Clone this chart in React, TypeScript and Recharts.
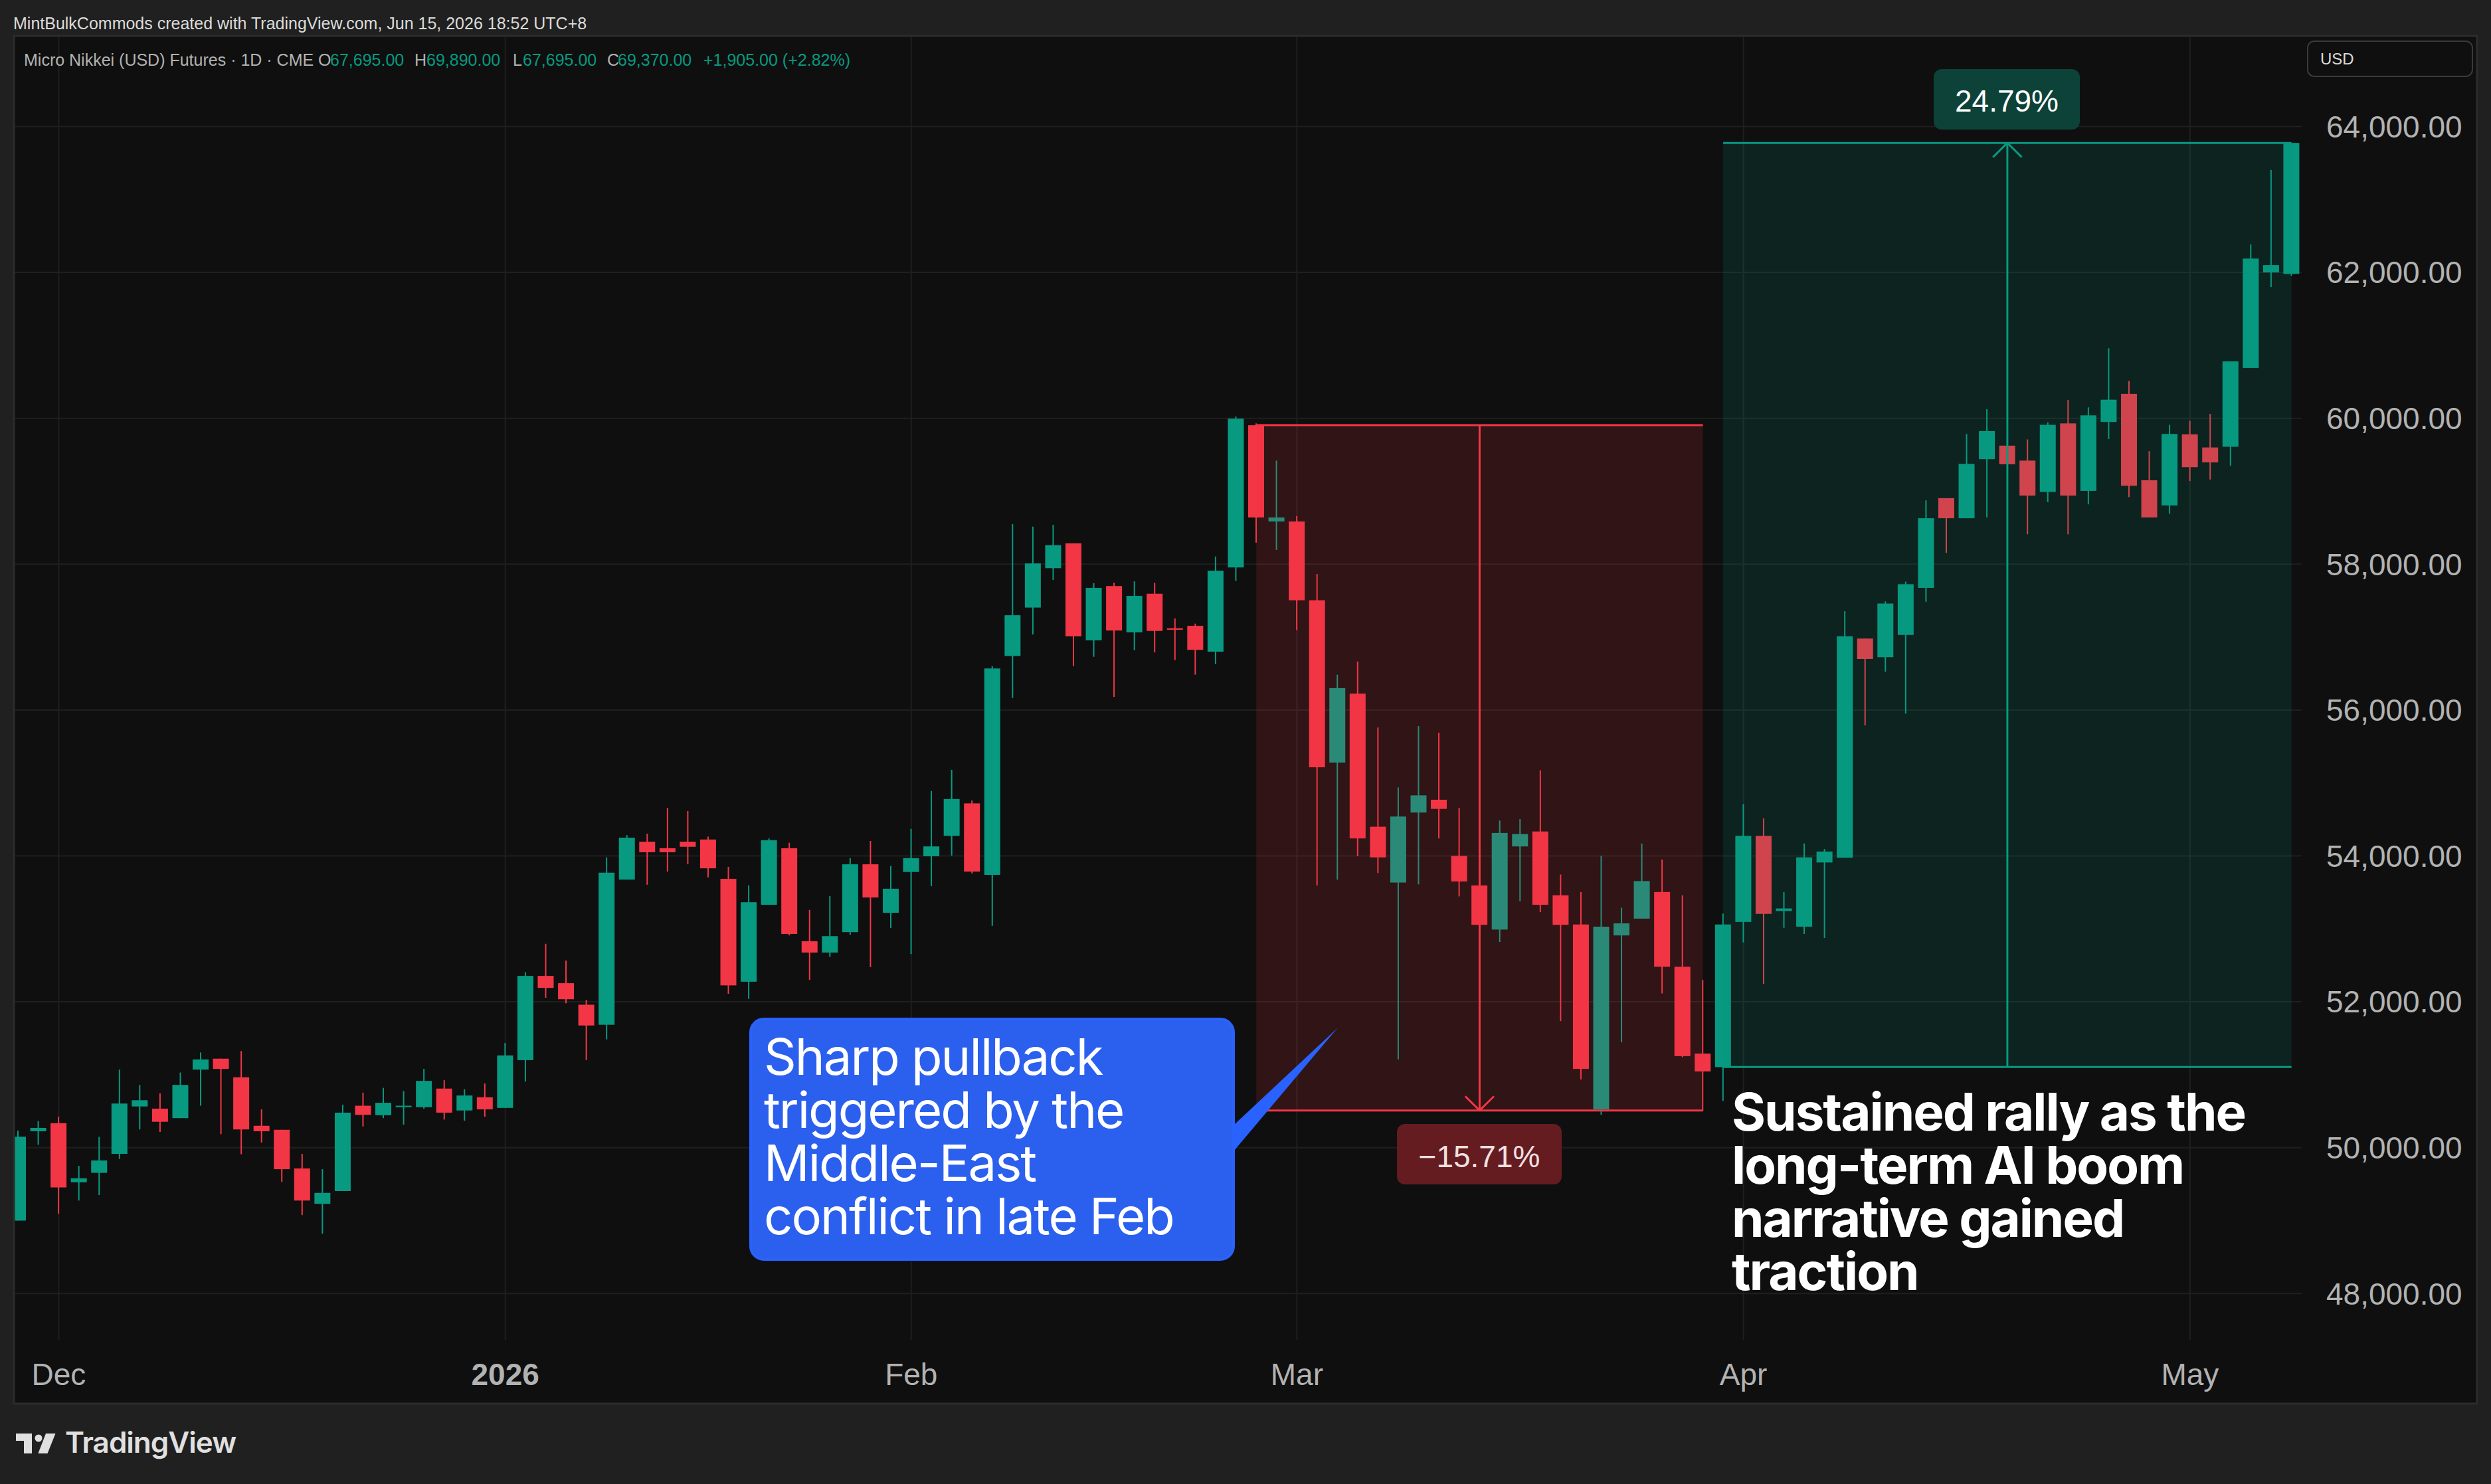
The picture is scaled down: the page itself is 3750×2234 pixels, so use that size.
import { Bar, CartesianGrid, ComposedChart, ReferenceArea, ReferenceLine, XAxis, YAxis } from 'recharts';

const opens = [
  49000, 50225, 50335, 49525, 49655, 49915, 50565, 50535, 50405, 51070, 51220, 50965, 50300, 50245, 49715, 49230,
  49405, 50575, 50445, 50555, 50555, 50810, 50510, 50690, 50545, 51200, 52355, 52255, 51960, 51685, 53675, 54195,
  54105, 54195, 54225, 53685, 52275, 53330, 54105, 52830, 52675, 52955, 53885, 53220, 53780, 53995, 54275, 54720,
  53740, 56740, 57405, 57945, 58285, 56955, 57700, 57065, 57595, 57120, 57155, 56800, 57955, 59905, 58585, 58585,
  57505, 55280, 56225, 54400, 53635, 54595, 54770, 54000, 53595, 52990, 54130, 54335, 53460, 53060, 50525, 52910,
  53140, 53505, 52480, 51290, 51105, 53095, 54275, 53245, 53030, 53910, 53975, 56980, 56725, 57030, 57675, 58905,
  58630, 59440, 59625, 59420, 58990, 59930, 59005, 59950, 60335, 59150, 58805, 59780, 59600, 59610, 60690, 62000,
  61980,
];
const highs = [
  50235, 50365, 50425, 49750, 50150, 51070, 50860, 50745, 51030, 51305, 51220, 51325, 50525, 50245, 49915, 49705,
  50590, 50755, 50820, 50775, 51080, 50925, 50800, 50880, 51435, 52405, 52795, 52565, 52025, 53980, 54285, 54305,
  54660, 54615, 54265, 53850, 53595, 54240, 54180, 53260, 53450, 53970, 54205, 53860, 54370, 54890, 55180, 54760,
  56600, 58550, 58515, 58540, 58285, 57740, 57745, 57765, 57745, 57255, 57185, 58105, 60025, 59930, 59420, 58660,
  57865, 56485, 56665, 55760, 54940, 55780, 55690, 54660, 53600, 54485, 54505, 55175, 53745, 53505, 54000, 53290,
  54170, 53950, 53460, 52300, 53210, 54710, 54515, 53505, 54170, 54095, 57355, 56980, 57490, 57760, 58875, 58905,
  59785, 60125, 59625, 59710, 59945, 60250, 60150, 60960, 60510, 59550, 59910, 59965, 60060, 60780, 62385, 63405,
  63775,
];
const lows = [
  49000, 50040, 49095, 49275, 49350, 49845, 50250, 50215, 50405, 50575, 50185, 49910, 50070, 49530, 49075, 48820,
  49405, 50290, 50405, 50315, 50535, 50385, 50370, 50425, 50545, 50905, 52055, 51980, 51200, 51485, 53675, 53605,
  53785, 53885, 53705, 52110, 52040, 53330, 52910, 52300, 52615, 52920, 52475, 53010, 52655, 53585, 54005, 53760,
  53040, 56165, 57035, 57785, 56600, 56730, 56180, 56820, 56790, 56685, 56485, 56630, 57770, 58295, 58195, 57095,
  53595, 53675, 53995, 53765, 51210, 53610, 54240, 53445, 52900, 52820, 53380, 53230, 51735, 50935, 50450, 51445,
  53140, 52115, 51240, 50505, 50640, 52815, 52245, 53015, 52930, 52875, 53975, 55790, 56525, 55950, 57485, 58155,
  58630, 58640, 59370, 58410, 58850, 58410, 58820, 59715, 58920, 58640, 58690, 59140, 59160, 59350, 60690, 61800,
  61955,
];
const closes = [
  50150, 50270, 49455, 49580, 49825, 50605, 50650, 50355, 50860, 51210, 51080, 50250, 50225, 49705, 49275, 49380,
  50480, 50450, 50615, 50575, 50915, 50480, 50715, 50525, 51265, 52355, 52190, 52035, 51675, 53770, 54250, 54050,
  54050, 54125, 53830, 52225, 53365, 54215, 52930, 52675, 52900, 53885, 53430, 53550, 53970, 54130, 54780, 53785,
  56570, 57300, 58010, 58260, 57010, 57675, 57090, 57565, 57085, 57100, 56825, 57910, 59995, 58640, 58640, 57505,
  55215, 56300, 54240, 53980, 54540, 54830, 54645, 53650, 53055, 54315, 54300, 53330, 53055, 51080, 53030, 53075,
  53655, 52480, 51255, 51045, 53060, 54275, 53205, 53280, 53980, 54060, 57010, 56700, 57460, 57725, 58630, 58630,
  59375, 59825, 59370, 58940, 59910, 58940, 60040, 60255, 59075, 58640, 59785, 59330, 59395, 60780, 62190, 62100,
  63775,
];

const priceTicks = [48000, 50000, 52000, 54000, 56000, 58000, 60000, 62000, 64000];
const timeTickBars = [3, 25, 45, 64, 86, 108];
const timeTickNames = ['Dec', '2026', 'Feb', 'Mar', 'Apr', 'May'];

const candles = opens.map((open, i) => ({
  bar: i + 1,
  open,
  high: highs[i],
  low: lows[i],
  close: closes[i],
  range: [lows[i], highs[i]],
}));

const UP = '#089981';
const DOWN = '#f23645';
const AXIS_FONT = '"Liberation Sans", sans-serif';

// red measure box, then green one (bar numbers and prices)
const drop = { from: 62, to: 84, mid: 73, top: 59905, bottom: 50510 };
const rally = { from: 85, to: 113, mid: 99, top: 63775, bottom: 51105 };

const renderCandle = (props: any) => {
  const { x, y, width, height, payload } = props;
  const { open, high, low, close } = payload;
  const perUnit = height / (high - low);
  const color = close >= open ? UP : DOWN;
  const bodyTop = y + (high - Math.max(open, close)) * perUnit;
  const bodyHeight = Math.max(Math.abs(open - close) * perUnit, 2);
  return (
    <g>
      <rect x={x + width / 2 - 1} y={y} width={2} height={height} fill={color} />
      <rect x={x} y={bodyTop} width={width} height={bodyHeight} fill={color} />
    </g>
  );
};

const TimeTick = ({ x, y, payload }: any) => (
  <text
    x={x}
    y={y + 60}
    textAnchor="middle"
    fill="#b2b2b2"
    fontSize={46}
    fontFamily={AXIS_FONT}
    fontWeight={payload.value === 25 ? 700 : 400}
  >
    {timeTickNames[timeTickBars.indexOf(payload.value)]}
  </text>
);

const segment = (color: string, x1: number, y1: number, x2: number, y2: number, key: string) => (
  <ReferenceLine
    key={key}
    segment={[{ x: x1, y: y1 }, { x: x2, y: y2 }]}
    stroke={color}
    strokeWidth={3}
    ifOverflow="visible"
    zIndex={450}
  />
);

function Candles() {
  return (
    <ComposedChart width={3717.5} height={2059} data={candles} margin={{ top: 0, right: 0, bottom: 0, left: 0 }}>
      <CartesianGrid stroke="#1f1f1f" strokeWidth={2} syncWithTicks />
      <XAxis
        dataKey="bar"
        type="number"
        domain={[0.5, 113.5]}
        ticks={timeTickBars}
        interval={0}
        height={96}
        tick={<TimeTick />}
        tickLine={false}
        axisLine={false}
        allowDataOverflow
      />
      <YAxis
        orientation="right"
        width={264.5}
        domain={[47365, 65243]}
        ticks={priceTicks}
        interval={0}
        tickFormatter={(v: number) => v.toLocaleString('en-US', { minimumFractionDigits: 2 })}
        tick={{ fill: '#b2b2b2', fontSize: 46, fontFamily: AXIS_FONT }}
        tickLine={false}
        axisLine={false}
        tickMargin={31}
        allowDataOverflow
      />
      <Bar dataKey="range" barSize={24} shape={renderCandle} isAnimationActive={false} />
      <ReferenceArea x1={drop.from} x2={drop.to} y1={drop.bottom} y2={drop.top} fill={DOWN} fillOpacity={0.15} stroke="none" zIndex={350} />
      <ReferenceArea x1={rally.from} x2={rally.to} y1={rally.bottom} y2={rally.top} fill={UP} fillOpacity={0.15} stroke="none" zIndex={350} />
      {segment(DOWN, drop.from, drop.top, drop.to, drop.top, 'dt')}
      {segment(DOWN, drop.from, drop.bottom, drop.to, drop.bottom, 'db')}
      {segment(DOWN, drop.mid, drop.top, drop.mid, drop.bottom, 'dm')}
      {segment(DOWN, drop.mid - 0.71, drop.bottom + 195, drop.mid, drop.bottom, 'da1')}
      {segment(DOWN, drop.mid + 0.71, drop.bottom + 195, drop.mid, drop.bottom, 'da2')}
      {segment(UP, rally.from, rally.top, rally.to, rally.top, 'rt')}
      {segment(UP, rally.from, rally.bottom, rally.to, rally.bottom, 'rb')}
      {segment(UP, rally.mid, rally.top, rally.mid, rally.bottom, 'rm')}
      {segment(UP, rally.mid - 0.71, rally.top - 195, rally.mid, rally.top, 'ra1')}
      {segment(UP, rally.mid + 0.71, rally.top - 195, rally.mid, rally.top, 'ra2')}
    </ComposedChart>
  );
}

const legend: [string, number, string][] = [
  ['Micro Nikkei (USD) Futures · 1D · CME', 36, '#b2b2b2'],
  ['O', 479, '#b2b2b2'],
  ['67,695.00', 497, UP],
  ['H', 624, '#b2b2b2'],
  ['69,890.00', 642, UP],
  ['L', 772, '#b2b2b2'],
  ['67,695.00', 787, UP],
  ['C', 914, '#b2b2b2'],
  ['69,370.00', 930, UP],
  ['+1,905.00 (+2.82%)', 1059, UP],
];
const blueLines = ['Sharp pullback', 'triggered by the', 'Middle-East', 'conflict in late Feb'];
const rallyLines = ['Sustained rally as the', 'long-term AI boom', 'narrative gained', 'traction'];

function Frame() {
  return (
    <svg width={3750} height={2234} style={{ position: 'absolute', left: 0, top: 0 }}>
      {/* outer strips hide the clipped first candle */}
      <rect x={0} y={0} width={21} height={2234} fill="#202020" />
      <path d="M21 54H3729V2113H21Z" fill="none" stroke="#2c2c2c" strokeWidth={3} />

      <text x={20} y={44} fill="#dbdbdb" fontSize={25} fontFamily={AXIS_FONT}>
        MintBulkCommods created with TradingView.com, Jun 15, 2026 18:52 UTC+8
      </text>
      {legend.map(([label, x, color]) => (
        <text key={label + x} x={x} y={99} fill={color} fontSize={25} fontFamily={AXIS_FONT}>
          {label}
        </text>
      ))}

      <rect x={3474} y={62} width={248} height={53} rx={10} fill="#0f0f0f" stroke="#3a3a3a" strokeWidth={2} />
      <text x={3493} y={97} fill="#dbdbdb" fontSize={24} fontFamily={AXIS_FONT}>
        USD
      </text>

      <rect x={2911} y={104} width={220} height={91} rx={12} fill="#0d4239" />
      <text x={3021} y={168} textAnchor="middle" fill="#ffffff" fontSize={46} fontFamily={AXIS_FONT}>
        24.79%
      </text>
      <rect x={2103} y={1692} width={248} height={91} rx={12} fill="#651c21" />
      <text x={2227} y={1757} textAnchor="middle" fill="#f0e0e0" fontSize={46} fontFamily={AXIS_FONT}>
        −15.71%
      </text>

      <path d="M1858 1693L2014 1547L1858 1732Z" fill="#2962ff" />
      <rect x={1130} y={1534} width={727} height={362} rx={20} fill="#2b5fee" stroke="#2962ff" strokeWidth={4} />
      {blueLines.map((line, i) => (
        <text key={line} x={1150} y={1618 + i * 80} fill="#ffffff" fontSize={76} fontFamily="Inter, sans-serif" letterSpacing={-2}>
          {line}
        </text>
      ))}
      {rallyLines.map((line, i) => (
        <text key={line} x={2607} y={1702 + i * 80} fill="#ffffff" fontSize={78} fontWeight={700} fontFamily="Inter, sans-serif" letterSpacing={-2}>
          {line}
        </text>
      ))}

      <path d="M24 2158H48V2188H36V2169H24Z" fill="#e0e0e0" />
      <circle cx={58} cy={2165} r={5.5} fill="#e0e0e0" />
      <path d="M69 2158H83.5L71.5 2188H57.4Z" fill="#e0e0e0" />
      <text x={98} y={2187} fill="#e0e0e0" fontSize={44} fontWeight={600} fontFamily="Inter, sans-serif" letterSpacing={-1}>
        TradingView
      </text>
    </svg>
  );
}

export default function App() {
  return (
    <div style={{ position: 'absolute', left: 0, top: 0, width: 3750, height: 2234, overflow: 'hidden', background: '#202020' }}>
      <div style={{ position: 'absolute', left: 21, top: 54, width: 3708, height: 2059, background: '#0f0f0f' }} />
      <div style={{ position: 'absolute', left: 11.5, top: 54 }}>
        <Candles />
      </div>
      <Frame />
    </div>
  );
}
